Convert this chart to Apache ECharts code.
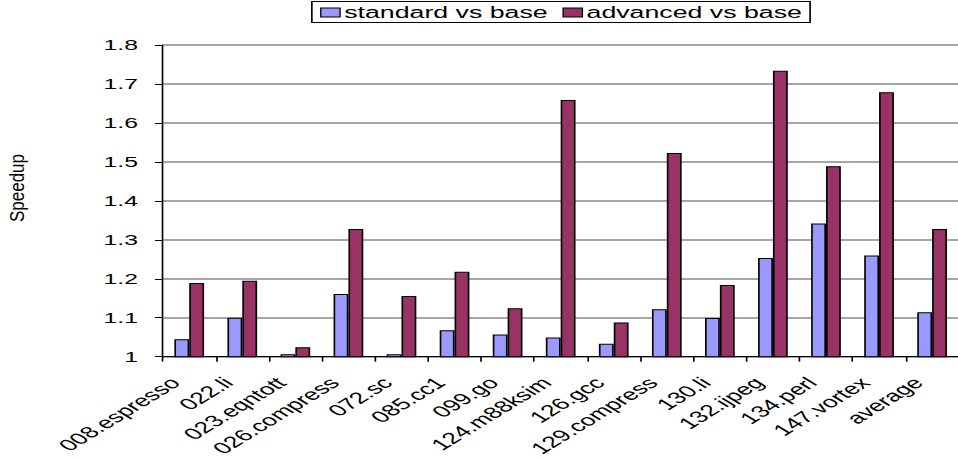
<!DOCTYPE html>
<html>
<head>
<meta charset="utf-8">
<script src="https://cdn.jsdelivr.net/npm/echarts@6/dist/echarts.min.js"></script>
<style>
  html, body { margin: 0; padding: 0; background: #fff; overflow: hidden; }
  #frame { width: 958px; height: 459px; overflow: hidden; position: relative; }
  /* the chart is laid out in a narrower box and widened horizontally */
  #chart { position: absolute; left: 0; top: 0; height: 459px; transform-origin: 0 0; }
</style>
</head>
<body>
<div id="frame"><div id="chart"></div></div>
<script>
// Benchmarks on the category axis
const benchmarks = [
  '008.espresso', '022.li', '023.eqntott', '026.compress', '072.sc',
  '085.cc1', '099.go', '124.m88ksim', '126.gcc', '129.compress',
  '130.li', '132.ijpeg', '134.perl', '147.vortex', 'average'
];
// Speedup of each configuration relative to the base machine
const standardVsBase = [
  1.045, 1.100, 1.006, 1.161, 1.006,
  1.068, 1.057, 1.049, 1.033, 1.122,
  1.099, 1.253, 1.342, 1.260, 1.114
];
const advancedVsBase = [
  1.189, 1.195, 1.024, 1.328, 1.156,
  1.218, 1.124, 1.659, 1.088, 1.523,
  1.184, 1.734, 1.489, 1.679, 1.328
];
const seriesNames = ['standard vs base', 'advanced vs base'];
const yMin = 1, yMax = 1.8, yStep = 0.1;

// horizontal widening factor applied to the whole drawing
const SX = 1.65;
const W = 958 / SX;

const el = document.getElementById('chart');
el.style.width = W + 'px';
el.style.transform = 'scaleX(' + SX + ')';

const font = 'Liberation Sans, Arial, sans-serif';
const chart = echarts.init(el, null, { renderer: 'svg' });

chart.setOption({
  animation: false,
  backgroundColor: '#ffffff',
  textStyle: { fontFamily: font },
  legend: {
    data: seriesNames,
    top: 1.5,
    left: 189,
    padding: [3, 5, 2, 5],
    borderColor: '#000',
    borderWidth: 1,
    itemWidth: 11.7,
    itemHeight: 9,
    itemGap: 9,
    icon: 'rect',
    itemStyle: { borderColor: '#000', borderWidth: 0.8 },
    textStyle: { fontFamily: font, fontSize: 16.2, color: '#000', padding: [0, 0, 0, -2.5] }
  },
  graphic: [
    {
      // vertical axis title, kept at its natural width after the widening
      type: 'text',
      x: 10.5,
      y: 188,
      rotation: Math.PI / 2,
      scaleY: 0.72,
      style: {
        text: 'Speedup',
        font: '17px ' + font,
        fill: '#000',
        align: 'center',
        verticalAlign: 'middle',
        textAlign: 'center',
        textVerticalAlign: 'middle'
      }
    }
  ],
  grid: { left: 162.7 / SX, top: 45, width: 800 / SX, bottom: 102.3, containLabel: false },
  xAxis: {
    type: 'category',
    data: benchmarks,
    axisLine: { lineStyle: { color: '#000', width: 1 } },
    axisTick: { show: true, alignWithLabel: false, length: 5, lineStyle: { color: '#000' } },
    axisLabel: {
      rotate: 45,
      interval: 0,
      margin: 15,
      padding: [0, 12, 0, 0],
      fontFamily: font,
      fontSize: 16,
      color: '#000'
    }
  },
  yAxis: {
    type: 'value',
    min: yMin,
    max: yMax,
    interval: yStep,
    axisLine: { show: true, lineStyle: { color: '#000', width: 1 } },
    axisTick: { show: true, length: 4.7, lineStyle: { color: '#000' } },
    axisLabel: {
      margin: 15,
      fontFamily: font,
      fontSize: 15,
      color: '#000',
      formatter: v => String(Math.round(v * 10) / 10)
    },
    splitLine: { show: true, lineStyle: { color: '#888888', width: 1.5 } }
  },
  series: [
    {
      name: seriesNames[0],
      type: 'bar',
      data: standardVsBase,
      barWidth: '28%',
      barGap: '0%',
      itemStyle: { color: '#9999ff', borderColor: '#000', borderWidth: 1 }
    },
    {
      name: seriesNames[1],
      type: 'bar',
      data: advancedVsBase,
      barWidth: '28%',
      itemStyle: { color: '#993366', borderColor: '#000', borderWidth: 1 }
    }
  ]
});
</script>
</body>
</html>
